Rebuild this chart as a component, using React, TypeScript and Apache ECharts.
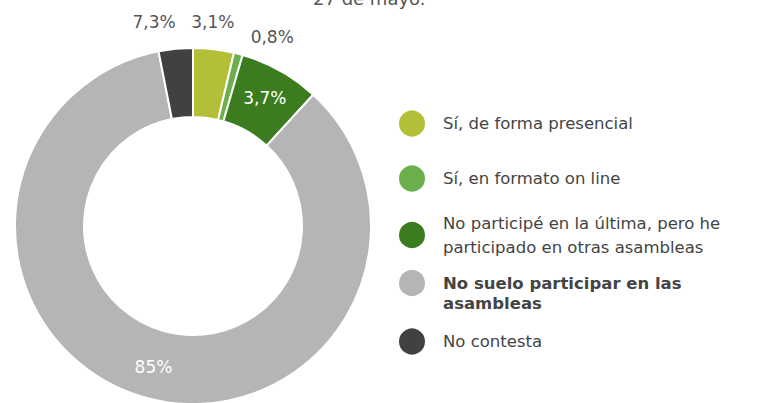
import React, { useEffect, useRef } from "react";
import * as echarts from "echarts";

// Categories (legend order)
const categories = [
  "Sí, de forma presencial",
  "Sí, en formato on line",
  "No participé en la última, pero he participado en otras asambleas",
  "No suelo participar en las asambleas",
  "No contesta",
];
// Legend display text (line breaks as in the reference)
const legendTexts = [
  "Sí, de forma presencial",
  "Sí, en formato on line",
  "No participé en la última, pero he\nparticipado en otras asambleas",
  "\nNo suelo participar en las\nasambleas",
  "No contesta",
];
// Slice sizes as drawn in the reference (%)
const values = [3.7, 0.8, 7.3, 85.1, 3.1];
// Labels printed on the slices in the reference
const sliceLabels = ["3,1%", "0,8%", "3,7%", "85%", "7,3%"];
const titleText = "27 de mayo.";

const colors = ["#b3bf38", "#6aaf4a", "#3b7d1e", "#b5b5b5", "#414141"];
const insideLabel = [false, false, true, true, false];
const labelShift: [number, number][] = [
  [-9, 0],
  [22, 9],
  [0, 0],
  [0, 0],
  [-14, 0],
];
const legendTops = [108.5, 163.5, 211, 253, 326.5];

const FONT = "'DejaVu Sans', 'Open Sans', sans-serif";

export default function App() {
  const ref = useRef<HTMLDivElement>(null);
  useEffect(() => {
    document.body.style.margin = "0";
    const chart = echarts.init(ref.current!, null, { renderer: "svg" });
    const data = categories.map((name, i) => ({
      name,
      value: values[i],
      itemStyle: { color: colors[i] },
      label: insideLabel[i]
        ? { position: "inside", color: "#ffffff" }
        : { position: "outside", color: "#555555" },
    }));
    const legends = categories.map((name, i) => ({
      data: [name],
      orient: "vertical",
      left: 397,
      top: legendTops[i],
      padding: 0,
      icon: "circle",
      itemWidth: 28,
      itemHeight: 28,
      selectedMode: false,
      formatter: () => legendTexts[i],
      textStyle: {
        fontFamily: FONT,
        fontSize: 16.5,
        color: "#444444",
        fontWeight: i === 3 ? "bold" : "normal",
        lineHeight: i === 3 ? 20 : 24,
        padding: [0, 0, 0, 12],
      },
    }));
    chart.setOption({
      animation: false,
      title: {
        text: titleText,
        left: 313,
        top: -11,
        padding: 0,
        textStyle: {
          fontFamily: FONT,
          fontSize: 18,
          fontWeight: "normal",
          color: "#555555",
        },
      },
      legend: legends,
      series: [
        {
          type: "pie",
          center: [193, 226],
          radius: [109, 178],
          startAngle: 90,
          clockwise: true,
          avoidLabelOverlap: false,
          itemStyle: { borderColor: "#ffffff", borderWidth: 2 },
          label: {
            show: true,
            fontFamily: FONT,
            fontSize: 17,
            formatter: (p: any) => sliceLabels[p.dataIndex],
          },
          labelLine: { show: false, length: 27, length2: 0 },
          labelLayout: (p: any) => {
            const s = labelShift[p.dataIndex];
            if (insideLabel[p.dataIndex]) return {};
            return { align: "center", verticalAlign: "middle", dx: s[0], dy: s[1] };
          },
          data,
        },
      ],
    });
    return () => chart.dispose();
  }, []);
  return <div ref={ref} style={{ width: 759, height: 403 }} />;
}
